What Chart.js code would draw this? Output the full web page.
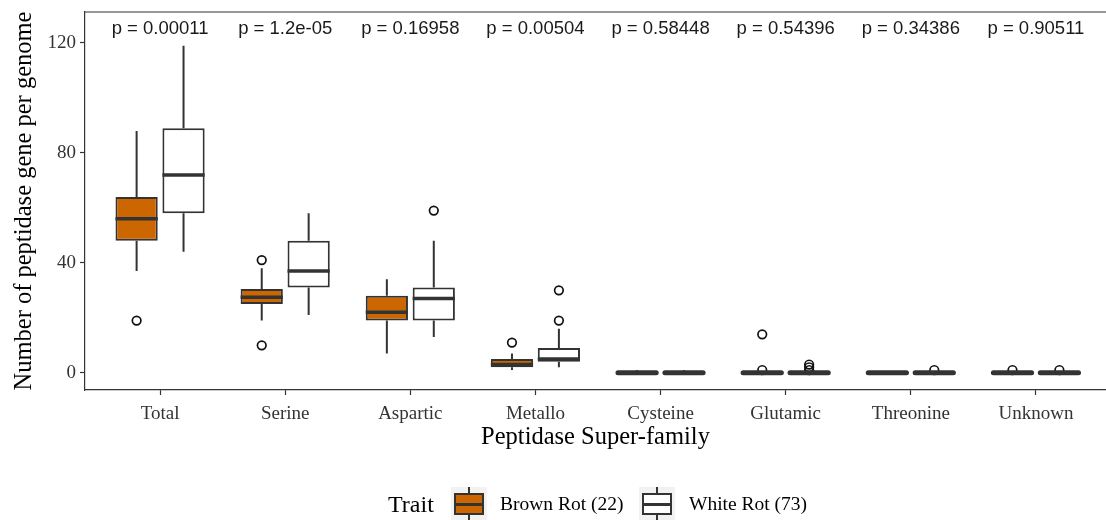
<!DOCTYPE html>
<html><head><meta charset="utf-8">
<script src="https://cdn.jsdelivr.net/npm/chart.js@4"></script>
<style>
html,body{margin:0;padding:0;background:#fff;}
#wrap{position:relative;width:1106px;height:520px;overflow:hidden;background:#fff;}
#c{position:absolute;left:0;top:0;}
#legend{position:absolute;left:0;top:487px;width:1106px;height:34px;font-family:"Liberation Serif",serif;color:#000;}
#legend .t{position:absolute;top:0;line-height:34px;white-space:nowrap;}
#legend .key{position:absolute;top:0;width:36px;height:34px;background:#f2f2f2;}
#legend .wh{position:absolute;left:17px;top:0;width:2px;height:34px;background:#333;}
#legend .bx{position:absolute;left:3px;top:6px;width:30px;height:22px;box-sizing:border-box;border:2px solid #333;}
#legend .md{position:absolute;left:3px;top:15.5px;width:30px;height:3px;background:#333;}
</style></head><body>
<div id="wrap">
<canvas id="c" width="1106" height="520"></canvas>
<div id="legend">
  <span class="t" style="left:388px;font-size:24px;">Trait</span>
  <div class="key" style="left:451px;"><div class="wh"></div><div class="bx" style="background:#CC6600"></div><div class="md"></div></div>
  <span class="t" style="left:500px;font-size:19.5px;">Brown Rot (22)</span>
  <div class="key" style="left:639px;"><div class="wh"></div><div class="bx" style="background:#fff"></div><div class="md"></div></div>
  <span class="t" style="left:689px;font-size:19.5px;">White Rot (73)</span>
</div>
</div>
<script>
// ---- data ----
const categories = ['Total','Serine','Aspartic','Metallo','Cysteine','Glutamic','Threonine','Unknown'];
const pValues = ['p = 0.00011','p = 1.2e-05','p = 0.16958','p = 0.00504','p = 0.58448','p = 0.54396','p = 0.34386','p = 0.90511'];
const yTicks = [0, 40, 80, 120];

const brownMin    = [37, 19,   7, 1, 0, 0, 0, 0];
const brownQ1     = [48, 25,  19, 2, 0, 0, 0, 0];
const brownMedian = [56, 27.5,22, 3, 0, 0, 0, 0];
const brownQ3     = [64, 30.5,28, 5, 0, 0, 0, 0];
const brownMax    = [88, 38,  34, 7, 1, 0, 0, 0];
const brownOutliers = [[19],[10,41],[],[11],[],[1,14],[],[1]];

const whiteMin    = [44,  21, 13, 2, 0, 0, 0, 0];
const whiteQ1     = [58,  31, 19, 4, 0, 0, 0, 0];
const whiteMedian = [72,  37, 27, 5, 0, 0, 0, 0];
const whiteQ3     = [89,  48, 31, 9, 0, 0, 0, 0];
const whiteMax    = [119, 58, 48,16, 1, 0, 0, 0];
const whiteOutliers = [[],[],[59],[19,30],[],[1,2,3],[1],[1]];

const pLabelValue = 125;
// ---------------

const DODGE = 0.1875;
function outlierPoints(list, off){
  const pts = [];
  list.forEach((vals, i) => vals.forEach(v => pts.push({x: i + off, y: v})));
  return pts;
}
const statsByDataset = [
  {min: brownMin, med: brownMedian, max: brownMax, q1: brownQ1, q3: brownQ3},
  {min: whiteMin, med: whiteMedian, max: whiteMax, q1: whiteQ1, q3: whiteQ3}
];

const boxPlugin = {
  id: 'boxStats',
  beforeDatasetsDraw(chart){
    const ctx = chart.ctx, ys = chart.scales.y;
    ctx.save();
    ctx.strokeStyle = '#333333'; ctx.lineWidth = 2;
    statsByDataset.forEach((s, d) => {
      chart.getDatasetMeta(d).data.forEach((bar, i) => {
        const x = bar.x;
        ctx.beginPath();
        ctx.moveTo(x, ys.getPixelForValue(s.q3[i])); ctx.lineTo(x, ys.getPixelForValue(s.max[i]));
        ctx.moveTo(x, ys.getPixelForValue(s.q1[i])); ctx.lineTo(x, ys.getPixelForValue(s.min[i]));
        ctx.stroke();
      });
    });
    ctx.restore();
  },
  afterDatasetsDraw(chart){
    const ctx = chart.ctx, ys = chart.scales.y, xs = chart.scales.x, a = chart.chartArea;
    ctx.save();
    ctx.strokeStyle = '#333333';
    statsByDataset.forEach((s, d) => {
      chart.getDatasetMeta(d).data.forEach((bar, i) => {
        const y = ys.getPixelForValue(s.med[i]);
        const flat = s.q1[i] === s.q3[i];
        ctx.lineWidth = flat ? 5 : 3.5;
        ctx.lineCap = flat ? 'round' : 'butt';
        const half = bar.width / 2 - (flat ? 2 : 0);
        ctx.beginPath();
        ctx.moveTo(bar.x - half, y); ctx.lineTo(bar.x + half, y);
        ctx.stroke();
      });
    });
    ctx.lineCap = 'butt';
    // top panel border
    ctx.lineWidth = 1.1; ctx.strokeStyle = '#333333';
    ctx.beginPath(); ctx.moveTo(a.left, a.top); ctx.lineTo(a.right, a.top); ctx.stroke();
    // p-values
    ctx.fillStyle = '#1a1a1a';
    ctx.font = '18.5px "Liberation Sans", Arial, sans-serif';
    ctx.textAlign = 'center'; ctx.textBaseline = 'middle';
    pValues.forEach((t, i) => ctx.fillText(t, xs.getPixelForValue(i), ys.getPixelForValue(pLabelValue)));
    ctx.restore();
  }
};

const serif = '"Liberation Serif", "Times New Roman", serif';
new Chart(document.getElementById('c'), {
  type: 'bar',
  data: {
    datasets: [
      {label: 'Brown Rot (22)', data: categories.map((c, i) => ({x: i, y: [brownQ1[i], brownQ3[i]]})),
       backgroundColor: '#CC6600', borderColor: '#333333', borderWidth: 2, borderSkipped: false,
       categoryPercentage: 0.75, barPercentage: 0.9},
      {label: 'White Rot (73)', data: categories.map((c, i) => ({x: i, y: [whiteQ1[i], whiteQ3[i]]})),
       backgroundColor: '#FFFFFF', borderColor: '#333333', borderWidth: 2, borderSkipped: false,
       categoryPercentage: 0.75, barPercentage: 0.9},
      {type: 'scatter', data: outlierPoints(brownOutliers, -DODGE), pointRadius: 4.3, pointBorderWidth: 1.7,
       pointBorderColor: '#111', pointBackgroundColor: 'rgba(0,0,0,0)'},
      {type: 'scatter', data: outlierPoints(whiteOutliers, DODGE), pointRadius: 4.3, pointBorderWidth: 1.7,
       pointBorderColor: '#111', pointBackgroundColor: 'rgba(0,0,0,0)'}
    ]
  },
  options: {
    responsive: false, animation: false, devicePixelRatio: 1, events: [],
    layout: {autoPadding: false, padding: {left: 0, right: 0, top: 12, bottom: 68}},
    plugins: {legend: {display: false}, tooltip: {enabled: false}},
    scales: {
      x: {
        type: 'linear', min: -0.6, max: 7.56, offset: false,
        afterBuildTicks: s => { s.ticks = categories.map((c, i) => ({value: i})); },
        afterFit: s => { s.height = 62; s.paddingLeft = 0; s.paddingRight = 0; },
        ticks: {callback: v => categories[Math.round(v)], font: {family: serif, size: 19}, color: '#333', padding: 8, maxRotation: 0, autoSkip: false},
        grid: {offset: false, drawOnChartArea: false, drawTicks: true, tickLength: 5, tickColor: '#333', tickWidth: 1.2},
        border: {display: true, color: '#333', width: 1.2},
        title: {display: true, text: 'Peptidase Super-family', font: {family: serif, size: 24.5}, color: '#000', padding: {top: 0, bottom: 0}}
      },
      y: {
        type: 'linear', min: -6.25, max: 131.25,
        afterBuildTicks: s => { s.ticks = yTicks.map(v => ({value: v})); },
        afterFit: s => { s.width = 85; s.paddingTop = 0; s.paddingBottom = 0; },
        ticks: {font: {family: serif, size: 19}, color: '#333', padding: 4},
        grid: {offset: false, drawOnChartArea: false, drawTicks: true, tickLength: 5, tickColor: '#333', tickWidth: 1.2},
        border: {display: true, color: '#333', width: 1.2},
        title: {display: true, text: 'Number of peptidase gene per genome', font: {family: serif, size: 24.5}, color: '#000', padding: {top: 10, bottom: 0}}
      }
    }
  },
  plugins: [boxPlugin]
});
</script>
</body></html>
